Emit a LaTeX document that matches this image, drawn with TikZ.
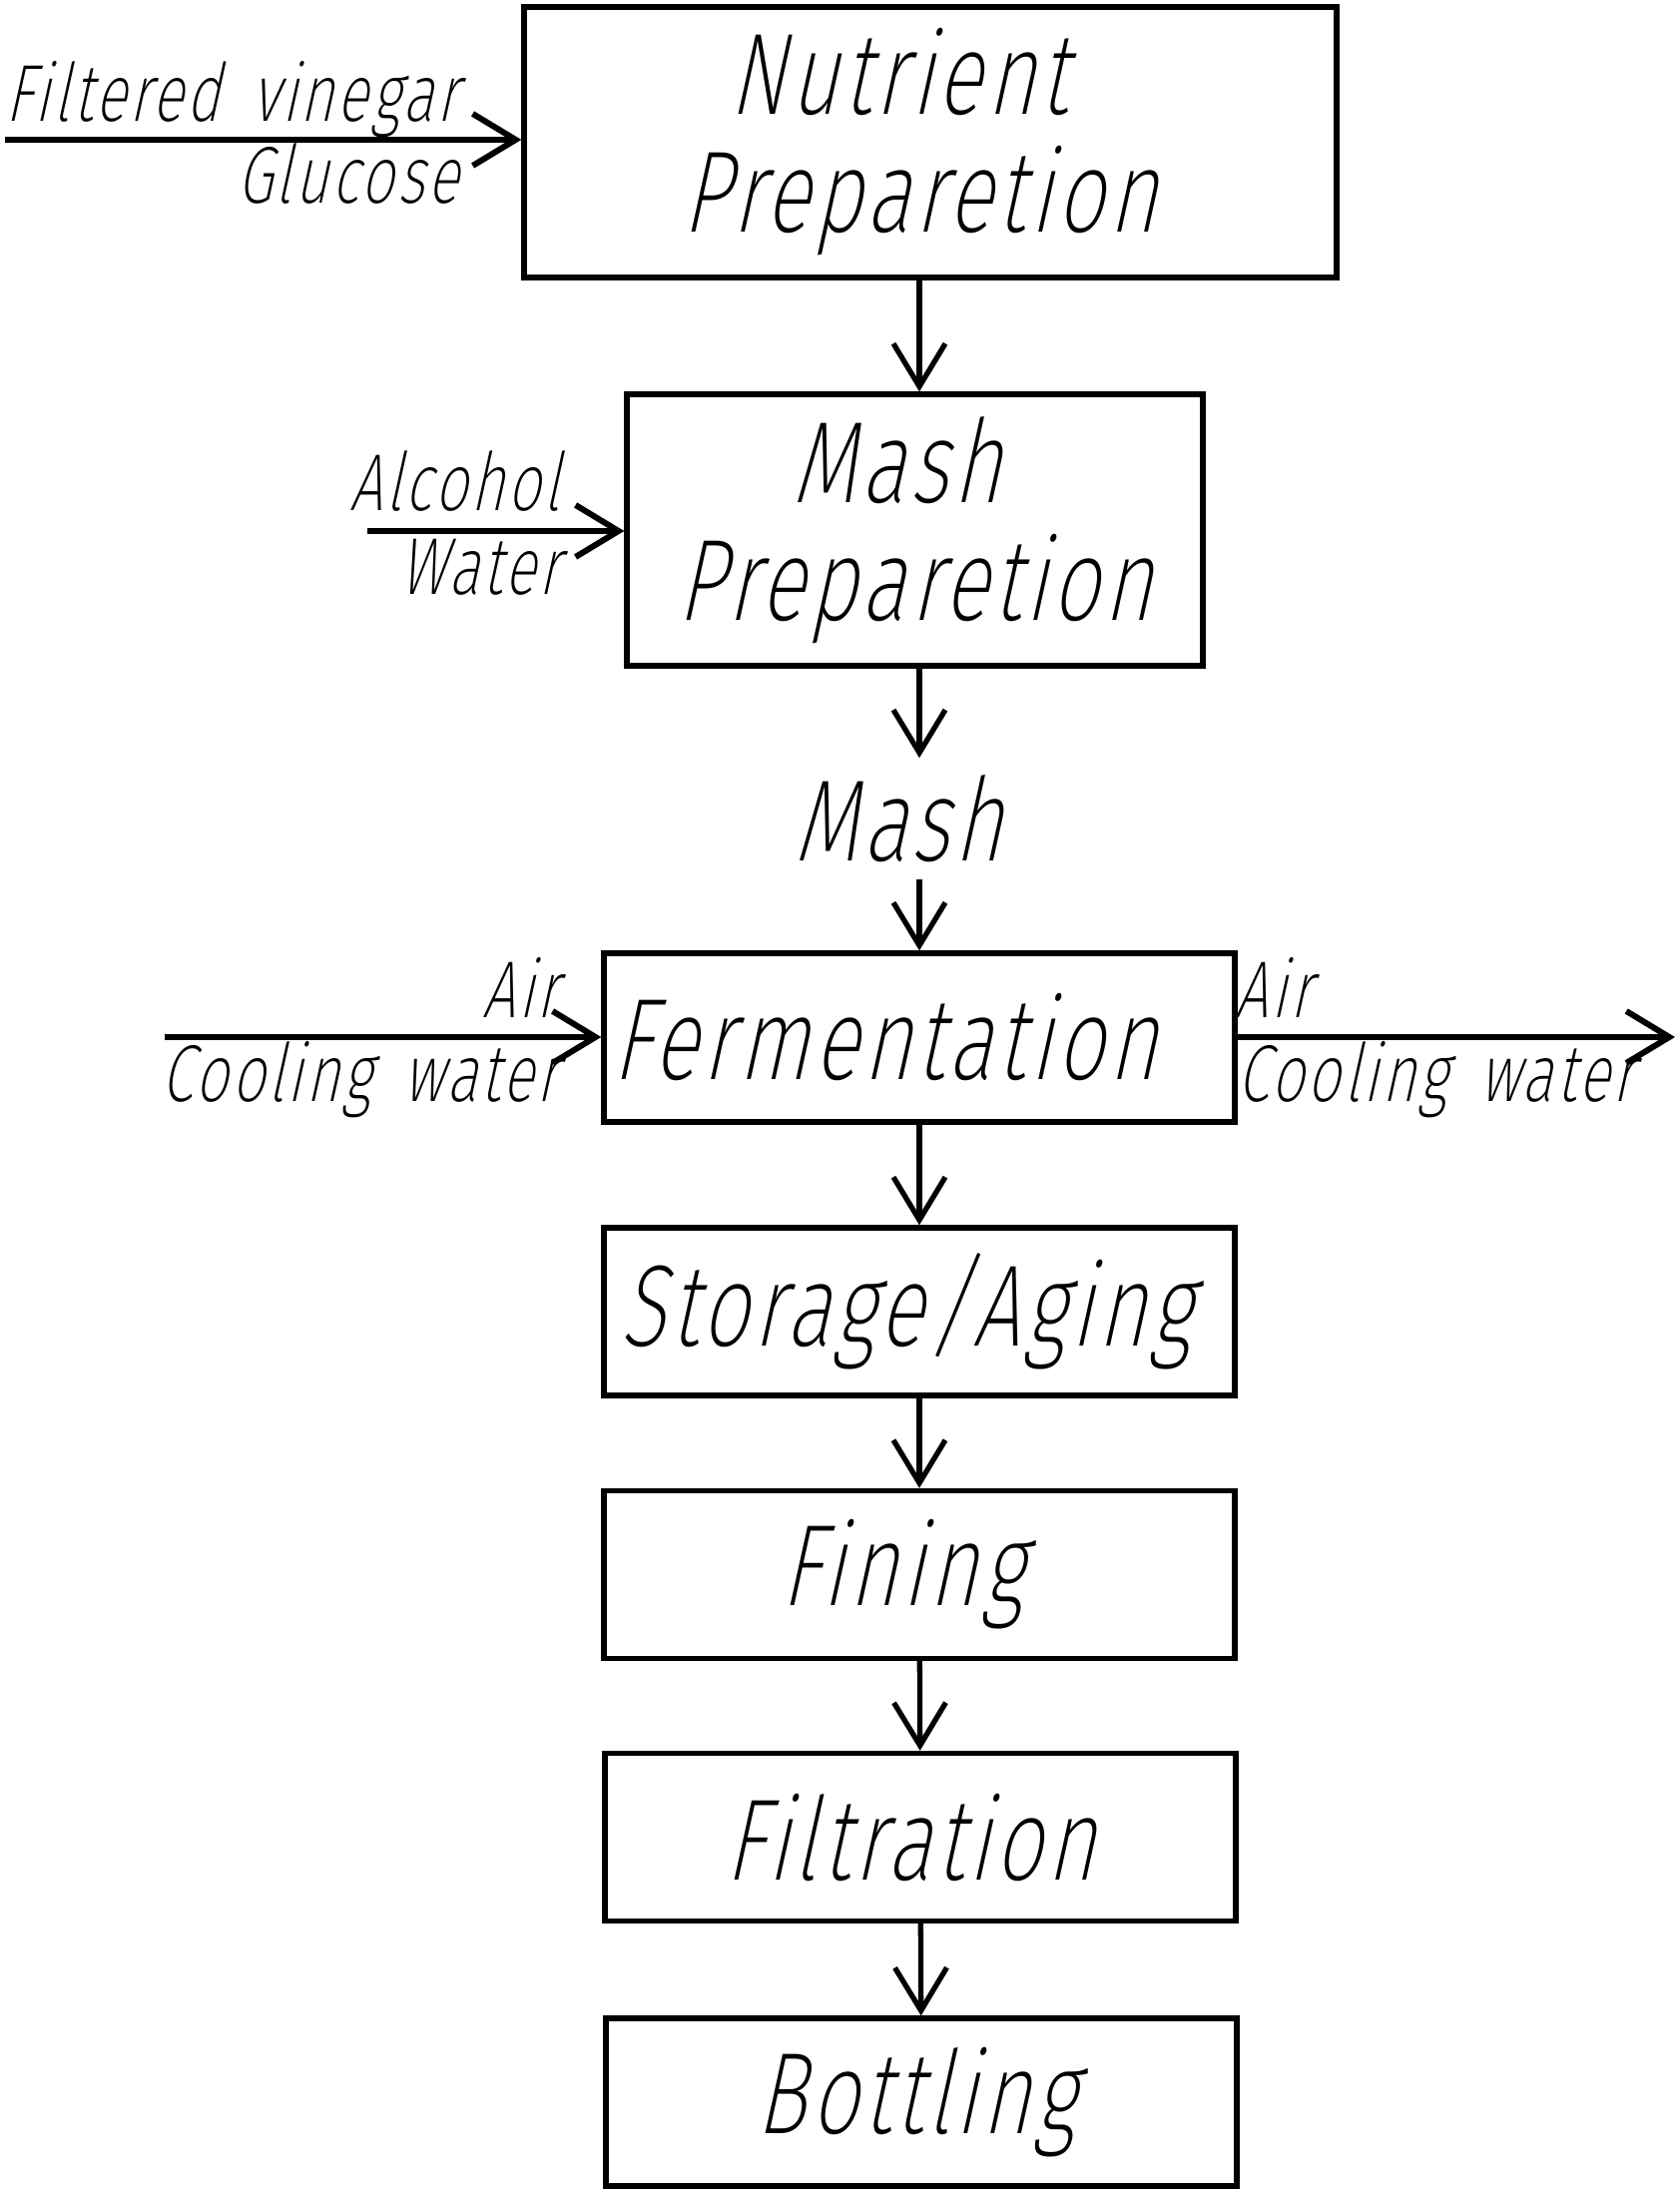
\documentclass[tikz,border=0pt]{standalone}
\usepackage{fontspec}
\setmainfont{Fira Sans ExtraLight}[FakeStretch=0.72,FakeSlant=0.22,LetterSpace=4,WordSpace=1.6]
\usetikzlibrary{arrows.meta}

\begin{document}
\begin{tikzpicture}[
  proc/.style={draw, line width=1.5pt, minimum width=6.32cm, minimum height=1.68cm,
    inner sep=0pt, align=center, font=\fontsize{33}{33.5}\selectfont},
  lbl/.style={inner sep=0pt, font=\fontsize{23}{27}\selectfont},
  flow/.style={-{Straight Barb[length=4.3mm,width=5.2mm]}, line width=1.5pt},
  feed/.style={flow, line width=1.7pt}]
\useasboundingbox (0,0) rectangle (16.82,21.97);

\node[proc, minimum width=8.14cm, minimum height=2.71cm] (nutr) at (9.32, 20.545)
  {\hspace*{-6.4mm}Nutrient\\\hspace*{-2.2mm}Preparetion};
\node[proc, minimum width=5.77cm, minimum height=2.72cm] (mashp) at (9.165, 16.66)
  {\hspace*{-3.6mm}Mash\\Preparetion};
\node[inner sep=0pt, minimum height=1.2cm, font=\fontsize{33}{33.5}\selectfont] (mash) at (9.00, 13.77) {Mash};
\node[proc, minimum height=1.69cm] (ferm) at (9.21, 11.575) {\hspace*{-7mm}Fermentation};
\node[proc] (stor) at (9.21, 8.83) {\hspace*{-2.6mm}Storage/Aging};
\node[proc] (fin) at (9.21, 6.195) {\hspace*{-3.4mm}Fining};
\node[proc] (filt) at (9.22, 3.565) {\hspace*{-2mm}Filtration};
\node[proc] (bott) at (9.23, 0.91) {\hspace*{-1mm}Bottling};

\draw[flow] (nutr.south -| ferm.north) -- (mashp.north -| ferm.north);
\draw[flow] (mashp.south -| ferm.north) -- (mash.north -| ferm.north);
\draw[flow] (mash.south -| ferm.north) -- (ferm.north);
\draw[flow] (ferm) -- (stor);
\draw[flow] (stor) -- (fin);
\draw[flow] (fin) -- (filt);
\draw[flow] (filt) -- (bott);

\coordinate (in1) at (0.05, 20.57);
\coordinate (in2) at (3.68, 16.65);
\coordinate (in3) at (1.65, 11.58);
\coordinate (out3) at (16.78, 11.58);
\draw[feed] (in1) -- (in1 -| nutr.west);
\draw[feed] (in2) -- (in2 -| mashp.west);
\draw[feed] (in3) -- (in3 -| ferm.west);
\draw[feed] (out3 -| ferm.east) -- (out3);

\node[lbl, anchor=base east] (fv) at (4.60, 20.75) {Filtered vinegar};
\node[lbl, anchor=base east] (gl) at (4.60, 19.93) {Glucose};
\node[lbl, anchor=base east] (alc) at (5.62, 16.85) {Alcohol};
\node[lbl, anchor=base east] (wat) at (5.62, 16.01) {Water};
\node[lbl, anchor=base east] (airl) at (5.60, 11.77) {Air};
\node[lbl, anchor=base east] (cooll) at (5.60, 10.93) {Cooling water};
\node[lbl, anchor=base west] (airr) at (12.37, 11.77) {Air};
\node[lbl, anchor=base west] (coolr) at (12.39, 10.93) {Cooling water};
\end{tikzpicture}
\end{document}
